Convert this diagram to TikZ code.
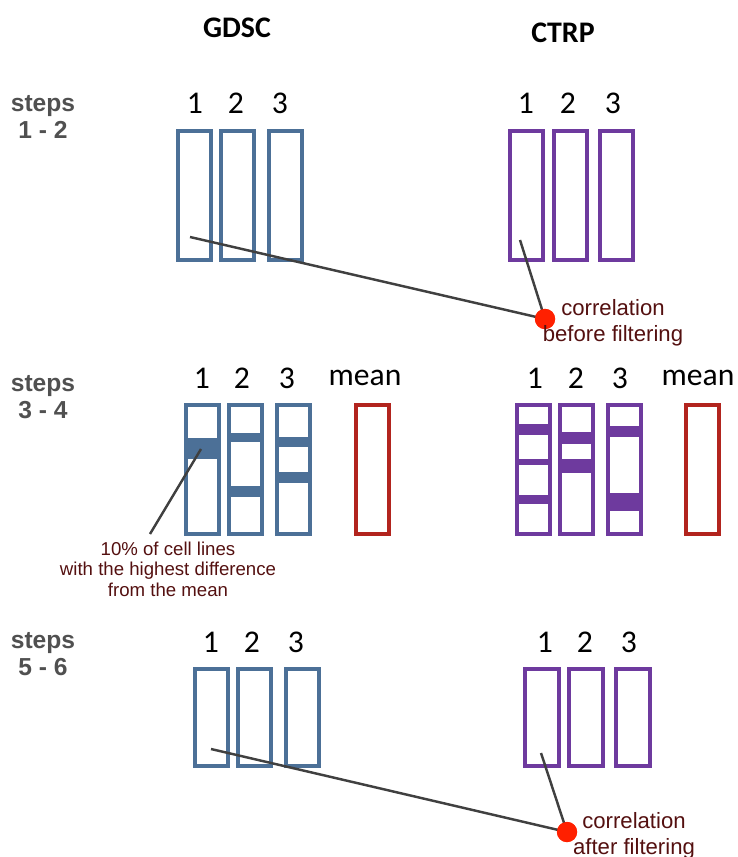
\documentclass[tikz,border=0pt]{standalone}
\usepackage{fontspec}
\setmainfont{Carlito}
\newfontfamily\arial{Liberation Sans}

\definecolor{gdscblue}{RGB}{76,112,151}
\definecolor{ctrppurple}{RGB}{110,58,158}
\definecolor{meanred}{RGB}{178,36,30}
\definecolor{dotred}{RGB}{255,32,0}
\definecolor{notecol}{RGB}{84,16,16}
\definecolor{stepgray}{RGB}{80,80,80}

\tikzset{
	gbar/.style={draw=gdscblue,line width=2.3pt},
	cbar/.style={draw=ctrppurple,line width=2.3pt},
	mbar/.style={draw=meanred,line width=2.3pt},
	num/.style={font=\fontsize{18}{20}\selectfont},
	head/.style={font=\bfseries\fontsize{17}{20}\selectfont},
	steplabel/.style={align=center,text=stepgray,font=\arial\bfseries\fontsize{14}{15.4}\selectfont},
	note/.style={align=center,text=notecol,font=\arial\fontsize{10.6}{11.6}\selectfont},
	corr/.style={align=center,text=notecol,font=\arial\fontsize{12.6}{14.7}\selectfont},
	pointer/.style={draw=black!75,line width=1.4pt},
	dot/.style={circle,fill=dotred,inner sep=0pt,minimum size=11.5pt}
}

\begin{document}
\begin{tikzpicture}[x=0.02cm,y=-0.02cm]
\useasboundingbox (0,0) rectangle (737,857);

\node [head] (gdsc) at (237,28) {GDSC};
\node [head] (ctrp) at (563,33) {CTRP};

\node [steplabel] (s12) at (43,117) {steps\\1 - 2};
\node [steplabel] (s34) at (43,397) {steps\\3 - 4};
\node [steplabel] (s56) at (43,654) {steps\\5 - 6};

% steps 1 - 2
\foreach \x/\n in {195/1,236/2,280/3}{
	\node [num] (ga\n) at (\x,103) {\n};
	}
\foreach \x/\n in {526/1,568/2,613/3}{
	\node [num] (ca\n) at (\x,103) {\n};
	}
\foreach \x in {178,221,269}{
	\draw [gbar] (\x,131) rectangle (\x+33,260);
	}
\foreach \x in {510,554,600}{
	\draw [cbar] (\x,131) rectangle (\x+33,260);
	}

\coordinate (gA) at (190,237);
\coordinate (cA) at (520,240);
\node [dot] (dotA) at (545,319) {};
\draw [pointer] (gA) -- (dotA.center);
\draw [pointer] (cA) -- (dotA.center);
\node [dot] at (dotA) {};
\node [corr] (corrA) at (613,323) {correlation\\before filtering};

% steps 3 - 4, darker bands = cell lines far from the mean
\foreach \x/\n in {202/1,242/2,287/3}{
	\node [num] (gb\n) at (\x,378) {\n};
	}
\node [num] (gbm) at (365,378) {mean};
\foreach \x/\n in {535/1,576/2,620/3}{
	\node [num] (cb\n) at (\x,378) {\n};
	}
\node [num] (cbm) at (698,378) {mean};

\foreach \x/\a/\b in {186/438/459, 229/433/442, 229/486/497, 277/437/447, 277/472/483}{
	\fill [gdscblue] (\x,\a) rectangle (\x+33,\b);
	}
\foreach \x/\a/\b in {517/424/435, 517/459/465, 517/495/504, 560/432/444, 560/459/473, 608/426/437, 608/493/511}{
	\fill [ctrppurple] (\x,\a) rectangle (\x+33,\b);
	}
\foreach \x in {186,229,277}{
	\draw [gbar] (\x,405) rectangle (\x+33,534);
	}
\foreach \x in {517,560,608}{
	\draw [cbar] (\x,405) rectangle (\x+33,534);
	}
\draw [mbar] (356,405) rectangle (389,534);
\draw [mbar] (686,405) rectangle (719,534);

\coordinate (gB) at (201,449);
\coordinate (noteend) at (150,534);
\draw [pointer] (gB) -- (noteend);
\node [note] (noteB) at (168,569) {10\% of cell lines\\with the highest difference\\from the mean};

% steps 5 - 6
\foreach \x/\n in {211/1,252/2,296/3}{
	\node [num] (gc\n) at (\x,642) {\n};
	}
\foreach \x/\n in {545/1,585/2,629/3}{
	\node [num] (cc\n) at (\x,642) {\n};
	}
\foreach \x in {195,238,286}{
	\draw [gbar] (\x,669) rectangle (\x+33,766);
	}
\foreach \x in {525,569,616}{
	\draw [cbar] (\x,669) rectangle (\x+34,766);
	}

\coordinate (gC) at (211,749);
\coordinate (cC) at (541,753);
\node [dot] (dotC) at (567,832) {};
\draw [pointer] (gC) -- (dotC.center);
\draw [pointer] (cC) -- (dotC.center);
\node [dot] at (dotC) {};
\node [corr] (corrC) at (634,836) {correlation\\after filtering};

\end{tikzpicture}
\end{document}
